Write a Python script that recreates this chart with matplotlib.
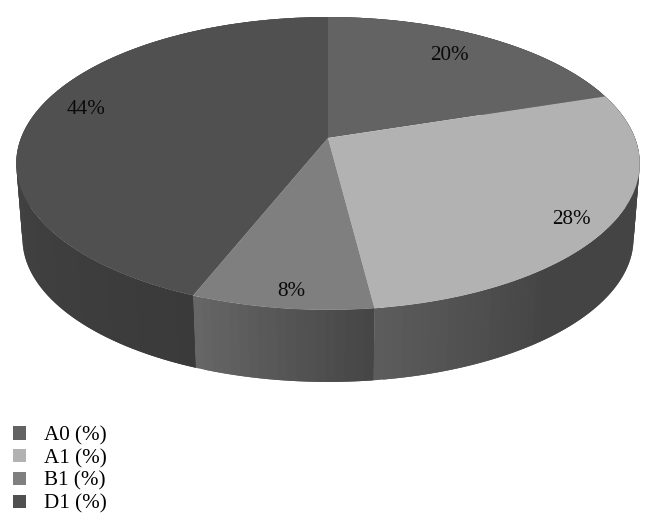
# -*- coding: utf-8 -*-
"""Tilted 3D style pie chart, pie wedges go through a perspective transform"""

import numpy as np
import matplotlib
matplotlib.use('Agg')
import matplotlib.pyplot as plt
from matplotlib.patches import Polygon
from matplotlib.transforms import Transform

labels = ['A0 (%)', 'A1 (%)', 'B1 (%)', 'D1 (%)']
values = [20, 28, 8, 44]
top_colors = ['#636363', '#b2b2b2', '#7f7f7f', '#505050']
# side colour at the far and the near end of each slice, and how fast it fades
side_colors = [('#4a4a4a', '#404040'), ('#444444', '#5c5c5c'),
               ('#444444', '#666666'), ('#3a3a3a', '#505050')]
side_fade = [1.0, 0.3, 1.0, 1.0]

plt.rcParams['font.family'] = ['Liberation Serif', 'DejaVu Serif']

CX, CY = 328., 138.
A, K, E = 307., 142., 0.174
SHRINK, VY = 0.98, 3910.


def project(u, v):
	x = CX + A * u / (1 + E * v)
	y = CY - K * v / (1 + E * v)
	return x, y


class Perspective(Transform):
	input_dims = 2
	output_dims = 2
	is_separable = False
	has_inverse = False

	def transform_non_affine(self, values):
		values = np.asarray(values)
		x, y = project(values[:, 0], values[:, 1])
		return np.column_stack([x, y])


def lerp_color(c1, c2, t):
	a = np.array(matplotlib.colors.to_rgb(c1))
	b = np.array(matplotlib.colors.to_rgb(c2))
	return a + (b - a) * t


fig = plt.figure(figsize=(6.57, 5.25), dpi=100)
ax = fig.add_axes([0, 0, 1, 1])

wedges, _ = ax.pie(values, labels=labels, colors=top_colors, startangle=90,
	counterclock=False, labeldistance=None)

# side wall, overlapping strips so no seams show
for w, cols, fade in zip(wedges, side_colors, side_fade):
	t1, t2 = w.theta1, w.theta2
	n = max(int((t2 - t1) / 1.5), 2)
	angs = np.radians(np.linspace(t1, t2, n + 1))
	strips = []
	for i in range(n):
		a = angs[i:min(i + 3, n + 1)]
		x, y = project(np.cos(a), np.sin(a))
		xb = CX + SHRINK * (x - CX)
		yb = VY + SHRINK * (y - VY)
		pts = np.column_stack([np.r_[x, xb[::-1]], np.r_[y, yb[::-1]]])
		col = lerp_color(cols[1], cols[0], min(1.0, i / n / fade))
		strips.append((pts, col))
	# later strips are drawn on top of the overlap of the earlier ones
	for pts, col in strips:
		ax.add_patch(Polygon(pts, closed=True, facecolor=col, edgecolor='none',
			zorder=1))

persp = Perspective() + ax.transData
for w in wedges:
	w.set_transform(persp)
	w.set_zorder(2)
	w.set_edgecolor('none')

# value labels
label_pos = [(449, 56), (571, 219), (291, 291), (86, 109)]
for val, (x, y) in zip(values, label_pos):
	ax.text(x, y, '%d%%' % val, ha='center', va='center', fontsize=15.2,
		color='#0a0a0a', zorder=3)

ax.set_aspect('auto')
ax.set_xlim(0, 657)
ax.set_ylim(525, 0)
ax.axis('off')

ax.legend(wedges, labels, loc='upper left', bbox_to_anchor=(13 / 657, 1 - 426 / 525),
	frameon=False, fontsize=15.2, handlelength=0.6, handleheight=0.6,
	handletextpad=0.88, labelspacing=0.17, borderpad=0, borderaxespad=0)

fig.savefig('out.png', dpi=100)
